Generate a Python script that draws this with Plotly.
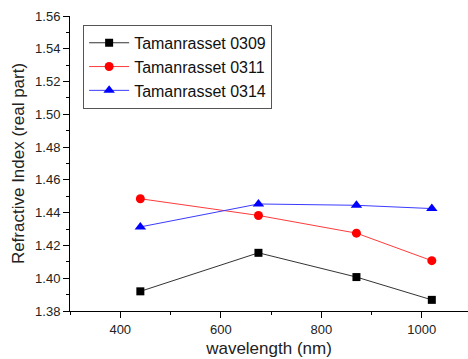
import plotly.graph_objects as go

wavelength = [440, 675, 870, 1020]
s0309 = [1.392, 1.4155, 1.4007, 1.3868]
s0311 = [1.4485, 1.4383, 1.4275, 1.4107]
s0314 = [1.4313, 1.4453, 1.4445, 1.4425]
names = ["Tamanrasset 0309", "Tamanrasset 0311", "Tamanrasset 0314"]

fig = go.Figure()
fig.add_trace(go.Scatter(x=wavelength, y=s0309, name=names[0], mode="lines+markers",
                         line=dict(color="#333333", width=1),
                         marker=dict(symbol="square", size=8, color="black")))
fig.add_trace(go.Scatter(x=wavelength, y=s0311, name=names[1], mode="lines+markers",
                         line=dict(color="#ff3b3b", width=1),
                         marker=dict(symbol="circle", size=9, color="red")))
fig.add_trace(go.Scatter(x=wavelength, y=s0314, name=names[2], mode="lines+markers",
                         line=dict(color="#3b3bff", width=1),
                         marker=dict(symbol="triangle-up", size=10, color="blue")))

axis_common = dict(showgrid=False, zeroline=False, showline=True, linecolor="black",
                   linewidth=1, ticks="outside", ticklen=6, tickcolor="black",
                   tickfont=dict(family="Liberation Sans, Arial", size=13, color="#222"))

fig.update_layout(
    width=468, height=359,
    margin=dict(l=70, r=0, t=16, b=48),
    paper_bgcolor="white", plot_bgcolor="white",
    font=dict(family="Liberation Sans, Arial", color="#222"),
    xaxis=dict(range=[300, 1092], tickvals=[400, 600, 800, 1000],
               minor=dict(ticks="outside", ticklen=3, dtick=100, tickcolor="black", tick0=300),
               title=dict(text="wavelength (nm)", font=dict(size=17), standoff=6),
               **axis_common),
    yaxis=dict(range=[1.38, 1.56], dtick=0.02, tickformat=".2f",
               minor=dict(ticks="outside", ticklen=3, dtick=0.01, tickcolor="black"),
               title=dict(text="Refractive Index (real part)", font=dict(size=17), standoff=6),
               **axis_common),
    legend=dict(x=0.033, y=0.97, xanchor="left", yanchor="top",
                bordercolor="#555", borderwidth=1, bgcolor="white",
                font=dict(family="Liberation Sans, Arial", size=16, color="#111"),
                tracegroupgap=0, itemwidth=40),
    showlegend=True,
)

fig.write_html("out.html")
